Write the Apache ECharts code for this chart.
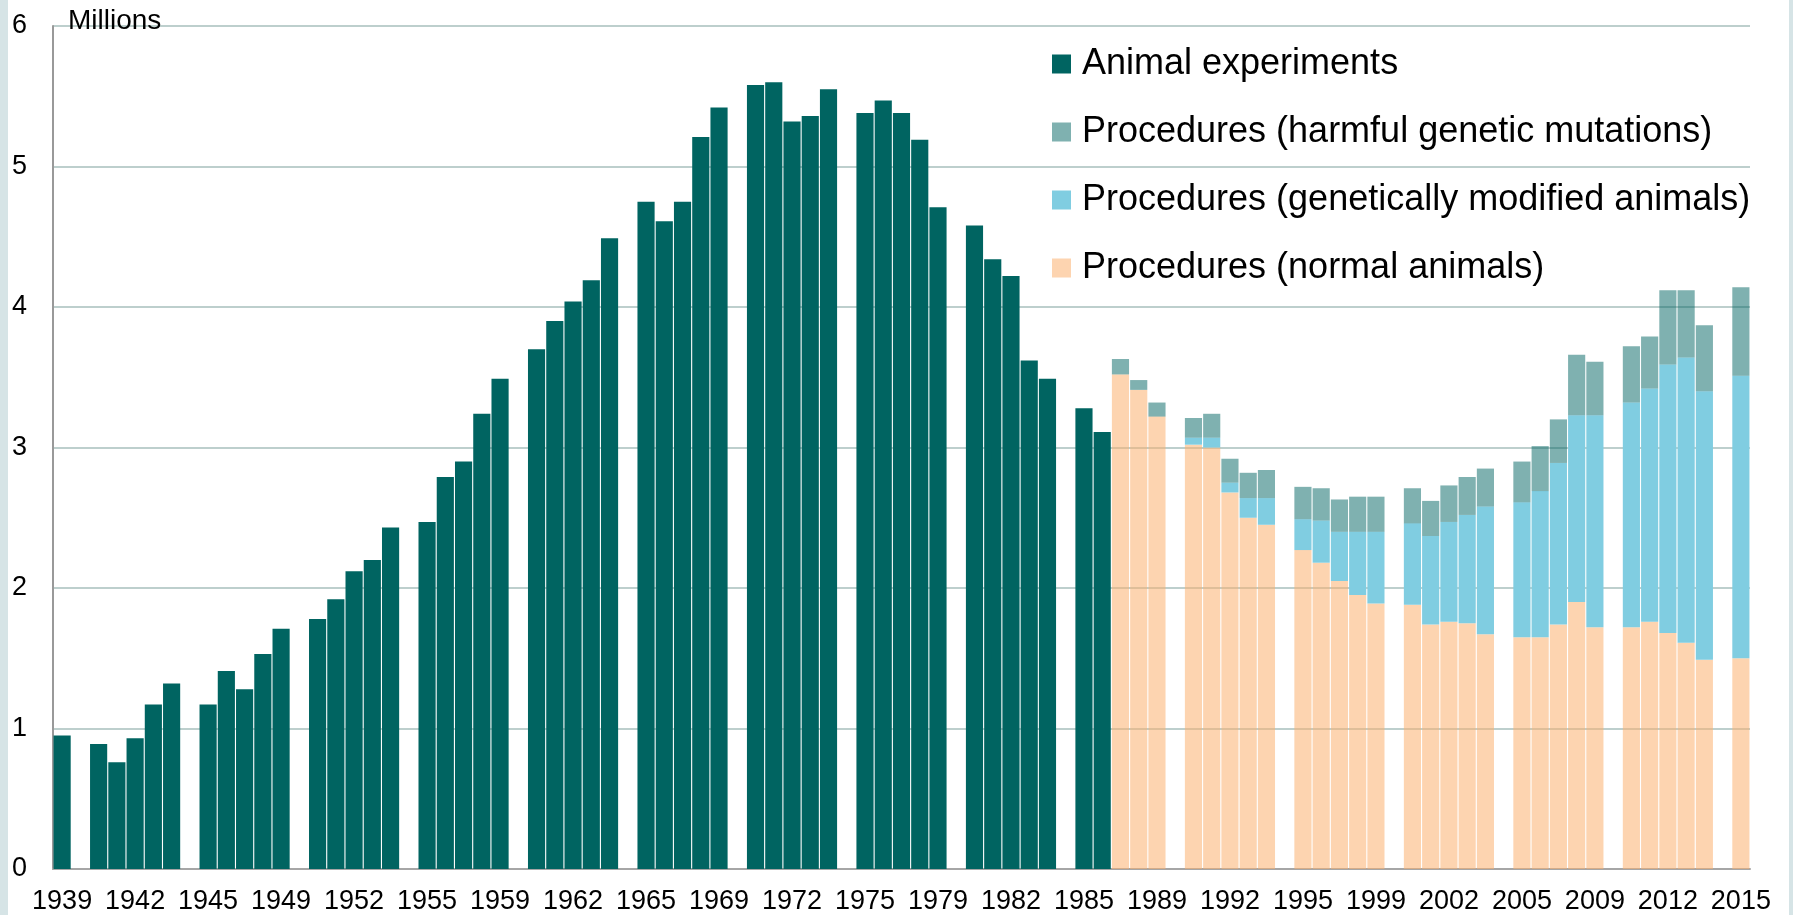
<!DOCTYPE html>
<html>
<head>
<meta charset="utf-8">
<script src="https://cdn.jsdelivr.net/npm/echarts@6/dist/echarts.min.js"></script>
<style>
  html, body { margin: 0; padding: 0; background: #d6e4e6; width: 1793px; height: 915px; overflow: hidden; }
  #chart { position: absolute; left: 8px; top: 0; width: 1781px; height: 915px; background: #ffffff; }
</style>
</head>
<body>
<div id="chart"></div>
<script>
// Years shown (1939-2015); a blank slot follows every year ending in 4 or 9 (and 1939)
const years = [];
for (let y = 1939; y <= 2015; y++) years.push(y);

// Millions, 1939-1986
const animalExperiments = [
  0.95, 0.89, 0.76, 0.93, 1.17, 1.32, 1.17, 1.41, 1.28, 1.53,
  1.71, 1.78, 1.92, 2.12, 2.20, 2.43, 2.47, 2.79, 2.90, 3.24,
  3.49, 3.70, 3.90, 4.04, 4.19, 4.49, 4.75, 4.61, 4.75, 5.21,
  5.42, 5.58, 5.60, 5.32, 5.36, 5.55, 5.38, 5.47, 5.38, 5.19,
  4.71, 4.58, 4.34, 4.22, 3.62, 3.49, 3.28, 3.11
];
// Millions, 1987-2015
const normalAnimals = [
  3.52, 3.41, 3.22, 3.02, 3.00, 2.68, 2.50, 2.45, 2.27, 2.18,
  2.05, 1.95, 1.89, 1.88, 1.74, 1.76, 1.75, 1.67, 1.65, 1.65,
  1.74, 1.90, 1.72, 1.72, 1.76, 1.68, 1.61, 1.49, 1.50
];
const gmAnimals = [
  0.00, 0.00, 0.00, 0.05, 0.07, 0.07, 0.14, 0.19, 0.22, 0.30,
  0.35, 0.45, 0.51, 0.58, 0.63, 0.71, 0.77, 0.91, 0.96, 1.04,
  1.15, 1.33, 1.51, 1.60, 1.66, 1.91, 2.03, 1.91, 2.01
];
const harmfulMutations = [
  0.11, 0.07, 0.10, 0.14, 0.17, 0.17, 0.18, 0.20, 0.23, 0.23,
  0.23, 0.25, 0.25, 0.25, 0.25, 0.26, 0.27, 0.27, 0.29, 0.32,
  0.31, 0.43, 0.38, 0.40, 0.37, 0.53, 0.48, 0.47, 0.63
];

// Build slot arrays (with blank gap slots)
const categories = [], sAnimal = [], sNormal = [], sGM = [], sHarm = [];
years.forEach((y, i) => {
  categories.push(String(y));
  if (y <= 1986) {
    sAnimal.push(animalExperiments[i]); sNormal.push(null); sGM.push(null); sHarm.push(null);
  } else {
    const j = y - 1987;
    sAnimal.push(null); sNormal.push(normalAnimals[j]); sGM.push(gmAnimals[j]); sHarm.push(harmfulMutations[j]);
  }
  if (y % 5 === 4 && y !== years[years.length - 1]) {
    categories.push(''); sAnimal.push(null); sNormal.push(null); sGM.push(null); sHarm.push(null);
  }
});

const FONT = '"Liberation Sans", Arial, sans-serif';
const chart = echarts.init(document.getElementById('chart'), null, { renderer: 'canvas' });
chart.setOption({
  animation: false,
  backgroundColor: '#ffffff',
  textStyle: { fontFamily: FONT },
  grid: { left: 45, right: 39, top: 26, bottom: 46, containLabel: false },
  legend: {
    orient: 'vertical',
    left: 1044,
    top: 44,
    padding: 0,
    icon: 'rect',
    itemWidth: 19,
    itemHeight: 19,
    itemGap: 28,
    data: ['Animal experiments', 'Procedures (harmful genetic mutations)',
           'Procedures (genetically modified animals)', 'Procedures (normal animals)'],
    textStyle: { fontSize: 36, lineHeight: 40, color: '#000', fontFamily: FONT, padding: [0, 0, 0, 6] }
  },
  xAxis: {
    type: 'category',
    data: categories,
    boundaryGap: true,
    axisTick: { show: false },
    axisLine: { show: true, lineStyle: { color: '#a6a6a6', width: 2 } },
    axisLabel: { interval: 3, fontSize: 27, color: '#000', margin: 19, fontFamily: FONT },
    splitLine: { show: false }
  },
  yAxis: {
    type: 'value',
    min: 0, max: 6, interval: 1,
    name: 'Millions',
    nameLocation: 'end',
    nameGap: 5,
    nameTextStyle: { fontSize: 28, color: '#000', align: 'left', verticalAlign: 'middle', padding: [0, 0, 0, 15], fontFamily: FONT },
    axisLine: { show: true, lineStyle: { color: '#999999', width: 2 } },
    axisTick: { show: false },
    axisLabel: { fontSize: 27, color: '#000', margin: 26, fontFamily: FONT },
    splitLine: { show: true, lineStyle: { color: '#a7bfbc', width: 1.5 } }
  },
  series: [
    { name: 'Animal experiments', type: 'bar', stack: 'total', data: sAnimal,
      barCategoryGap: '6%', itemStyle: { color: '#006461' } },
    { name: 'Procedures (normal animals)', type: 'bar', stack: 'total', data: sNormal,
      barCategoryGap: '6%', itemStyle: { color: 'rgba(251,176,112,0.55)' } },
    { name: 'Procedures (genetically modified animals)', type: 'bar', stack: 'total', data: sGM,
      barCategoryGap: '6%', itemStyle: { color: '#80cde1' } },
    { name: 'Procedures (harmful genetic mutations)', type: 'bar', stack: 'total', data: sHarm,
      barCategoryGap: '6%', itemStyle: { color: 'rgba(0,100,97,0.5)' } }
  ]
});
</script>
</body>
</html>
